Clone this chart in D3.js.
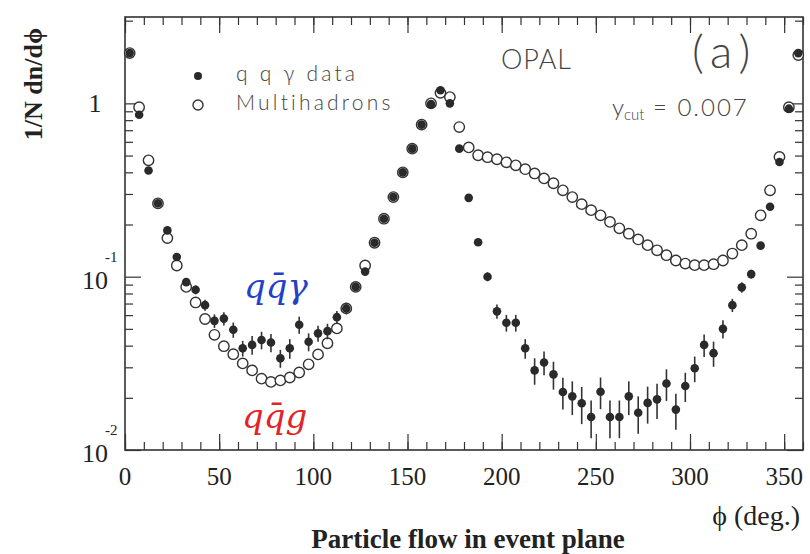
<!DOCTYPE html>
<html>
<head>
<meta charset="utf-8">
<script src="https://cdn.jsdelivr.net/npm/d3@7"></script>
<style>
  body { margin: 0; background: #fff; }
  svg { display: block; }
</style>
</head>
<body>
<div id="container"></div>
<script>
// bin centres (deg.)
const phiBins = [
  2.5, 7.5, 12.5, 17.5, 22.5, 27.5, 32.5, 37.5, 42.5, 47.5, 52.5, 57.5,
  62.5, 67.5, 72.5, 77.5, 82.5, 87.5, 92.5, 97.5, 102.5, 107.5, 112.5, 117.5,
  122.5, 127.5, 132.5, 137.5, 142.5, 147.5, 152.5, 157.5, 162.5, 167.5, 172.5, 177.5,
  182.5, 187.5, 192.5, 197.5, 202.5, 207.5, 212.5, 217.5, 222.5, 227.5, 232.5, 237.5,
  242.5, 247.5, 252.5, 257.5, 262.5, 267.5, 272.5, 277.5, 282.5, 287.5, 292.5, 297.5,
  302.5, 307.5, 312.5, 317.5, 322.5, 327.5, 332.5, 337.5, 342.5, 347.5, 352.5, 357.5
];

// q q gamma data
const qqgData = [
  1.95, 0.86, 0.41, 0.265, 0.185, 0.130, 0.093, 0.084, 0.0685, 0.0556, 0.0573, 0.0494,
  0.0386, 0.0404, 0.0431, 0.0417, 0.0338, 0.0386, 0.0528, 0.0421, 0.0471, 0.0485, 0.0584, 0.0656,
  0.0873, 0.107, 0.157, 0.216, 0.288, 0.40, 0.548, 0.754, 0.99, 1.19, 1.0, 0.548,
  0.285, 0.158, 0.100, 0.0631, 0.0542, 0.0542, 0.0386, 0.0288, 0.0320, 0.0273, 0.0216, 0.0204,
  0.0186, 0.0155, 0.0217, 0.0155, 0.0155, 0.0204, 0.0164, 0.0187, 0.0196, 0.0242, 0.0171, 0.0234,
  0.0296, 0.0404, 0.0362, 0.0500, 0.0685, 0.0868, 0.1035, 0.151, 0.253, 0.459, 0.932, 1.95
];

const qqgErr = [
  0, 0, 0, 0, 0, 0.005, 0.004, 0.005, 0.005, 0.005, 0.005, 0.005,
  0.004, 0.005, 0.005, 0.005, 0.004, 0.005, 0.006, 0.005, 0.005, 0.005, 0.005, 0.005,
  0.005, 0.005, 0, 0, 0, 0, 0, 0, 0, 0, 0, 0,
  0, 0.006, 0.006, 0.006, 0.006, 0.006, 0.005, 0.005, 0.005, 0.005, 0.0045, 0.0045,
  0.0045, 0.0038, 0.0045, 0.0038, 0.0038, 0.0045, 0.004, 0.0045, 0.0045, 0.005, 0.004, 0.0045,
  0.005, 0.006, 0.006, 0.006, 0.006, 0.006, 0.006, 0, 0, 0, 0, 0
];

// multihadrons
const multiData = [
  1.95, 0.95, 0.469, 0.265, 0.167, 0.116, 0.0873, 0.0710, 0.0570, 0.0462, 0.0397, 0.0357,
  0.0316, 0.0288, 0.0258, 0.0247, 0.0252, 0.0262, 0.0280, 0.0312, 0.0356, 0.0413, 0.0503, 0.0656,
  0.0873, 0.116, 0.157, 0.216, 0.288, 0.40, 0.548, 0.754, 1.0, 1.15, 1.087, 0.730,
  0.557, 0.502, 0.489, 0.476, 0.457, 0.439, 0.417, 0.394, 0.369, 0.346, 0.315, 0.288,
  0.262, 0.242, 0.226, 0.207, 0.190, 0.177, 0.164, 0.152, 0.142, 0.133, 0.124, 0.119,
  0.1165, 0.1165, 0.118, 0.124, 0.136, 0.152, 0.177, 0.226, 0.315, 0.491, 0.95, 1.90
];

const xTickLabels = [0, 50, 100, 150, 200, 250, 300, 350];
const yDecades = [-2, -1, 0];

const serif = "'Liberation Serif', 'DejaVu Serif', serif";
const thin = "Lato, 'Open Sans', sans-serif";

const svg = d3.select("#container").append("svg")
  .attr("width", 810)
  .attr("height", 554);

const x = d3.scaleLinear().domain([0, 360]).range([125, 803]);
const y = d3.scaleLog().domain([0.01, 3.15]).range([450, 17]);

// minor log ticks 2..9 per decade
let minorY = [];
yDecades.forEach(k => {
  for (let m = 2; m <= 9; m++) {
    let v = m * Math.pow(10, k);
    if (v <= 3.15) minorY.push(v);
  }
});
const majorY = yDecades.map(k => Math.pow(10, k));
const minorX = d3.range(0, 361, 10);

function frameAxis(g) {
  g.selectAll(".domain").remove();
  g.selectAll("line").attr("stroke", "#333").attr("stroke-width", 1.2);
  g.selectAll("text").remove();
}

// bottom + top ticks
svg.append("g").attr("transform", "translate(0,450)")
  .call(d3.axisBottom(x).tickValues(minorX).tickSize(-8)).call(frameAxis);
svg.append("g").attr("transform", "translate(0,450)")
  .call(d3.axisBottom(x).tickValues(xTickLabels).tickSize(-16)).call(frameAxis);
svg.append("g").attr("transform", "translate(0,17)")
  .call(d3.axisTop(x).tickValues(minorX).tickSize(-8)).call(frameAxis);
svg.append("g").attr("transform", "translate(0,17)")
  .call(d3.axisTop(x).tickValues(xTickLabels).tickSize(-16)).call(frameAxis);

// left + right ticks
svg.append("g").attr("transform", "translate(125,0)")
  .call(d3.axisLeft(y).tickValues(minorY).tickSize(-8)).call(frameAxis);
svg.append("g").attr("transform", "translate(125,0)")
  .call(d3.axisLeft(y).tickValues(majorY).tickSize(-16)).call(frameAxis);
svg.append("g").attr("transform", "translate(803,0)")
  .call(d3.axisRight(y).tickValues(minorY).tickSize(-8)).call(frameAxis);
svg.append("g").attr("transform", "translate(803,0)")
  .call(d3.axisRight(y).tickValues(majorY).tickSize(-16)).call(frameAxis);

// frame
svg.append("rect")
  .attr("x", 125).attr("y", 17)
  .attr("width", 803 - 125).attr("height", 450 - 17)
  .attr("fill", "none").attr("stroke", "#333").attr("stroke-width", 1.6);

// x tick labels
svg.append("g").selectAll("text")
  .data(xTickLabels).enter().append("text")
  .attr("x", d => x(d))
  .attr("y", 485)
  .attr("text-anchor", "middle")
  .attr("font-family", serif)
  .attr("font-size", 25)
  .attr("fill", "#222")
  .text(d => d);

// y tick labels
yDecades.forEach(k => {
  let yy = y(Math.pow(10, k));
  if (k === 0) {
    svg.append("text").attr("x", 95).attr("y", yy + 9)
      .attr("text-anchor", "middle")
      .attr("font-family", serif).attr("font-size", 26).attr("fill", "#222")
      .text("1");
  } else {
    svg.append("text").attr("x", 108).attr("y", yy + 12)
      .attr("text-anchor", "end")
      .attr("font-family", serif).attr("font-size", 26).attr("fill", "#222")
      .text("10");
    svg.append("text").attr("x", 105).attr("y", yy - 15)
      .attr("font-family", serif).attr("font-size", 15).attr("fill", "#222")
      .text(String(k));
  }
});

// axis titles
svg.append("text")
  .attr("transform", "translate(42,84) rotate(-90)")
  .attr("text-anchor", "middle")
  .attr("font-family", serif).attr("font-weight", "bold")
  .attr("font-size", 26).attr("fill", "#222")
  .text("1/N dn/d\u03d5");

svg.append("text")
  .attr("x", 800).attr("y", 525)
  .attr("text-anchor", "end")
  .attr("font-family", serif).attr("font-size", 28).attr("fill", "#222")
  .text("\u03d5 (deg.)");

svg.append("text")
  .attr("x", 468).attr("y", 548)
  .attr("text-anchor", "middle")
  .attr("font-family", serif).attr("font-weight", "bold")
  .attr("font-size", 27).attr("fill", "#222")
  .text("Particle flow in event plane");

// multihadrons (open circles)
svg.append("g").selectAll("circle")
  .data(multiData).enter().append("circle")
  .attr("cx", (d, i) => x(phiBins[i]))
  .attr("cy", d => y(d))
  .attr("r", 5.2)
  .attr("fill", "#fff")
  .attr("stroke", "#333")
  .attr("stroke-width", 1.4);

// qq gamma error bars
svg.append("g").selectAll("line")
  .data(qqgData).enter().append("line")
  .attr("x1", (d, i) => x(phiBins[i]))
  .attr("x2", (d, i) => x(phiBins[i]))
  .attr("y1", (d, i) => y(d + qqgErr[i]))
  .attr("y2", (d, i) => y(d - qqgErr[i]))
  .attr("stroke", "#333")
  .attr("stroke-width", 1.6);

// qq gamma points
svg.append("g").selectAll("circle")
  .data(qqgData).enter().append("circle")
  .attr("cx", (d, i) => x(phiBins[i]))
  .attr("cy", d => y(d))
  .attr("r", 4.3)
  .attr("fill", "#2a2a2a");

// legend
svg.append("circle").attr("cx", 198).attr("cy", 76).attr("r", 4).attr("fill", "#2a2a2a");
svg.append("circle").attr("cx", 198).attr("cy", 105).attr("r", 5)
  .attr("fill", "#fff").attr("stroke", "#333").attr("stroke-width", 1.4);
svg.append("text").attr("x", 236).attr("y", 81)
  .attr("font-family", thin).attr("font-weight", 300).attr("font-size", 21)
  .attr("letter-spacing", 3.2).attr("fill", "#444")
  .text("q q \u03b3 data");
svg.append("text").attr("x", 236).attr("y", 110)
  .attr("font-family", thin).attr("font-weight", 300).attr("font-size", 21)
  .attr("letter-spacing", 3.2).attr("fill", "#444")
  .text("Multihadrons");

// labels
svg.append("text").attr("x", 501).attr("y", 69)
  .attr("font-family", thin).attr("font-weight", 300).attr("font-size", 27)
  .attr("letter-spacing", 1).attr("fill", "#444")
  .text("OPAL");
svg.append("text").attr("x", 692).attr("y", 68)
  .attr("font-family", thin).attr("font-weight", 300).attr("font-size", 46)
  .attr("letter-spacing", 7).attr("fill", "#444")
  .text("(a)");
const ycut = svg.append("text").attr("x", 612).attr("y", 116)
  .attr("font-family", thin).attr("font-weight", 300).attr("font-size", 24)
  .attr("fill", "#444");
ycut.append("tspan").text("y");
ycut.append("tspan").attr("font-size", 15).attr("dy", 4).text("cut");
ycut.append("tspan").attr("dy", -4).attr("letter-spacing", 2).text(" = 0.007");

// handwritten annotations
svg.append("text").attr("x", 244).attr("y", 298)
  .attr("font-family", "'DejaVu Serif', serif").attr("font-style", "italic")
  .attr("font-size", 34).attr("fill", "#2440c8")
  .text("qq\u0304\u03b3");
svg.append("text").attr("x", 242).attr("y", 428)
  .attr("font-family", "'DejaVu Serif', serif").attr("font-style", "italic")
  .attr("font-size", 34).attr("fill", "#e02428")
  .text("qq\u0304g");
</script>
</body>
</html>
